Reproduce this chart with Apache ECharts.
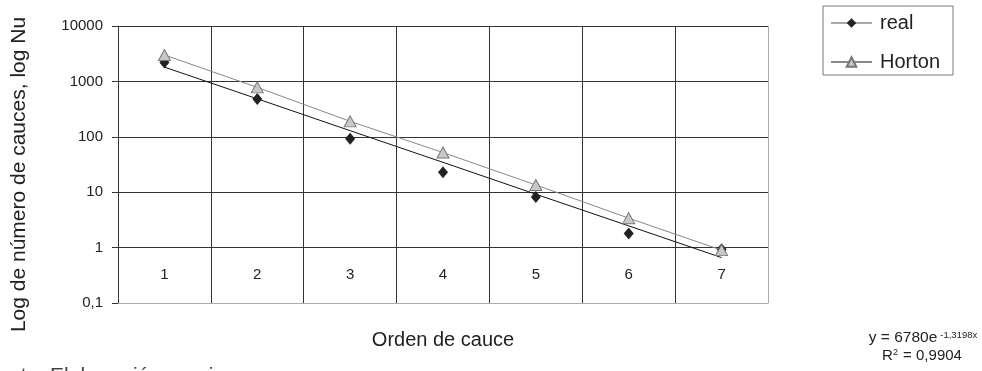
<!DOCTYPE html>
<html>
<head>
<meta charset="utf-8">
<script src="https://cdn.jsdelivr.net/npm/echarts@6/dist/echarts.min.js"></script>
<style>
html,body{margin:0;padding:0;background:#fff;}
#chart{width:982px;height:371px;}
</style>
</head>
<body>
<div id="chart"></div>
<script>
// ---- data ----
const categories = ['1', '2', '3', '4', '5', '6', '7'];
const realValues = [2200, 480, 92, 23, 8.2, 1.8, 0.93];
const hortonValues = [3000, 780, 190, 52, 13.5, 3.4, 0.9];
const trendValues = [1810, 485, 129, 34.6, 9.2, 2.47, 0.66];
const yMin = 0.1;
const yMax = 10000;
const xTitle = 'Orden de cauce';
const yTitle = 'Log de número de cauces, log Nu';
const equationText = 'y = 6780e{sup|-1,3198x}';
const r2Text = 'R{sup|2} = 0,9904';
const sourceText = 'Fuente: Elaboración propia';

const FONT = 'Liberation Sans, Arial, sans-serif';
const chart = echarts.init(document.getElementById('chart'), null, {renderer: 'canvas'});

const option = {
  animation: false,
  backgroundColor: '#fff',
  textStyle: {fontFamily: FONT},
  grid: {left: 118, right: 214, top: 26, bottom: 68, containLabel: false},
  legend: {
    orient: 'vertical',
    left: 823,
    top: 6,
    borderColor: '#777',
    borderWidth: 1,
    borderRadius: 0,
    padding: [7, 13, 3, 7],
    itemWidth: 41,
    itemHeight: 12,
    itemGap: 19,
    textStyle: {fontSize: 20, color: '#222', fontFamily: FONT, padding: [0, 0, 0, 3]},
    data: [
      {name: 'real', lineStyle: {color: '#555', width: 1, opacity: 1, type: 'solid'}},
      {name: 'Horton'}
    ]
  },
  xAxis: {
    type: 'category',
    data: categories,
    boundaryGap: true,
    name: xTitle,
    nameLocation: 'middle',
    nameGap: 27,
    nameTextStyle: {fontSize: 20, color: '#222', fontFamily: FONT},
    axisLine: {show: true, lineStyle: {color: '#aaa', width: 1}},
    axisTick: {show: false},
    axisLabel: {inside: true, margin: 21, fontSize: 15, color: '#222', fontFamily: FONT},
    splitLine: {show: true, lineStyle: {color: ['#333', '#333', '#333', '#333', '#333', '#333', '#333', '#aaa'], width: 1}}
  },
  yAxis: {
    type: 'log',
    logBase: 10,
    min: yMin,
    max: yMax,
    splitNumber: 5,
    name: yTitle,
    nameLocation: 'middle',
    nameRotate: 90,
    nameGap: 88,
    nameTextStyle: {fontSize: 21, color: '#222', fontFamily: FONT, padding: [0, 20, 0, 0]},
    axisLine: {show: true, lineStyle: {color: '#333', width: 1}},
    axisTick: {show: true, inside: false, length: 6, lineStyle: {color: '#333'}},
    axisLabel: {
      margin: 15, fontSize: 15, color: '#222', fontFamily: FONT,
      formatter: function (v) { return String(Number(v.toPrecision(6))).replace('.', ','); }
    },
    splitLine: {show: true, lineStyle: {color: '#333', width: 1}}
  },
  series: [
    {
      name: 'trend',
      type: 'line',
      data: trendValues,
      symbol: 'none',
      lineStyle: {color: '#111', width: 1},
      silent: true,
      z: 2
    },
    {
      name: 'real',
      type: 'line',
      data: realValues,
      symbol: 'diamond',
      symbolSize: [10, 12],
      itemStyle: {color: '#222', borderColor: '#222', borderWidth: 0},
      lineStyle: {color: '#555', width: 1, opacity: 0},
      z: 3
    },
    {
      name: 'Horton',
      type: 'line',
      data: hortonValues,
      symbol: 'triangle',
      symbolSize: [12, 11],
      itemStyle: {color: '#c8c8c8', borderColor: '#777', borderWidth: 1},
      lineStyle: {color: '#888', width: 1},
      z: 4
    }
  ],
  graphic: [
    {
      type: 'text',
      x: 923, y: 338,
      style: {
        text: equationText,
        align: 'center', verticalAlign: 'middle',
        fontSize: 15.5, fill: '#222', fontFamily: FONT,
        rich: {sup: {fontSize: 9.5, verticalAlign: 'top', fill: '#222', fontFamily: FONT, padding: [0, 0, 6, 3]}}
      }
    },
    {
      type: 'text',
      x: 922, y: 356,
      style: {
        text: r2Text,
        align: 'center', verticalAlign: 'middle',
        fontSize: 15, fill: '#222', fontFamily: FONT,
        rich: {sup: {fontSize: 9, verticalAlign: 'top', fill: '#222', fontFamily: FONT, padding: [0, 1, 6, 0]}}
      }
    },
    {
      type: 'text',
      x: -27, y: 366,
      style: {
        text: sourceText,
        align: 'left', verticalAlign: 'top',
        fontSize: 21, fill: '#444', fontFamily: FONT
      }
    }
  ]
};
chart.setOption(option);
</script>
</body>
</html>
